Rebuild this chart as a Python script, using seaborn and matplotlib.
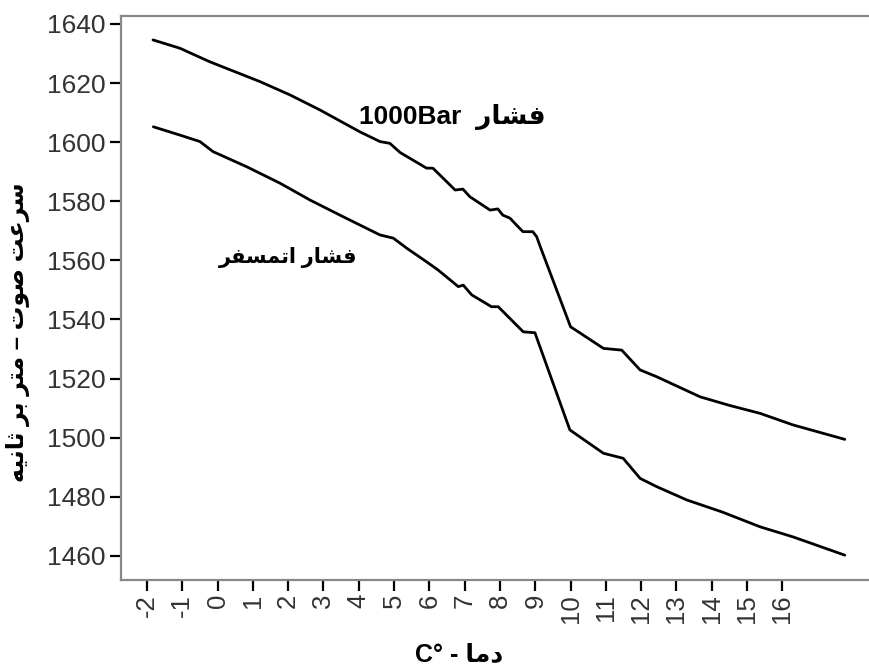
import matplotlib
matplotlib.use("Agg")
import matplotlib.pyplot as plt
import seaborn as sns
import pandas as pd

# ---------------- data ----------------
temp_1000bar = [-1.83, -1.07, -0.22, 1.2, 2.05, 2.9, 4.03, 4.6, 4.88, 5.17, 5.92, 6.1,
                6.73, 6.95, 7.15, 7.72, 7.94, 8.08, 8.28, 8.65, 8.93, 9.04, 9.13, 10.0,
                10.27, 10.93, 11.45, 11.97, 12.44, 13.67, 14.5, 15.37, 16.3, 17.77]
speed_1000bar = [1634.6, 1631.8, 1627.2, 1620.5, 1616.0, 1610.9, 1603.5, 1600.2, 1599.6,
                 1596.5, 1591.2, 1591.2, 1583.8, 1584.1, 1581.5, 1577.0, 1577.4, 1575.3,
                 1574.3, 1569.7, 1569.7, 1568.0, 1565.0, 1537.5, 1535.4, 1530.2, 1529.6,
                 1522.9, 1520.6, 1513.8, 1510.9, 1508.2, 1504.3, 1499.4]

temp_atm = [-1.82, -1.07, -0.5, -0.13, 0.82, 1.77, 2.62, 3.6, 4.6, 4.98, 5.36, 5.92,
            6.25, 6.82, 6.96, 7.2, 7.76, 7.95, 8.66, 8.99, 9.98, 10.93, 11.49, 11.97,
            12.44, 13.29, 14.3, 15.37, 16.3, 17.77]
speed_atm = [1605.2, 1602.4, 1600.2, 1596.8, 1591.7, 1586.1, 1580.4, 1574.5, 1568.6,
             1567.5, 1564.1, 1559.5, 1556.7, 1551.1, 1551.6, 1548.3, 1544.3, 1544.3,
             1535.8, 1535.5, 1502.6, 1494.7, 1493.0, 1486.2, 1483.4, 1478.9, 1474.8,
             1469.8, 1466.4, 1460.2]

x_ticks = list(range(-2, 17))
y_ticks = list(range(1460, 1641, 20))

label_1000 = "فشار  1000Bar"
label_atm = "فشار اتمسفر"
x_label = "دما - C°"
y_label = "سرعت صوت – متر بر ثانیه"

# ---------------- minimal Arabic/Persian shaping ----------------
FORMS = {  # isolated, final, initial, medial
    "ا": (0xFE8D, 0xFE8E, None, None),
    "ب": (0xFE8F, 0xFE90, 0xFE91, 0xFE92),
    "ت": (0xFE95, 0xFE96, 0xFE97, 0xFE98),
    "ث": (0xFE99, 0xFE9A, 0xFE9B, 0xFE9C),
    "د": (0xFEA9, 0xFEAA, None, None),
    "ر": (0xFEAD, 0xFEAE, None, None),
    "س": (0xFEB1, 0xFEB2, 0xFEB3, 0xFEB4),
    "ش": (0xFEB5, 0xFEB6, 0xFEB7, 0xFEB8),
    "ص": (0xFEB9, 0xFEBA, 0xFEBB, 0xFEBC),
    "ع": (0xFEC9, 0xFECA, 0xFECB, 0xFECC),
    "ف": (0xFED1, 0xFED2, 0xFED3, 0xFED4),
    "م": (0xFEE1, 0xFEE2, 0xFEE3, 0xFEE4),
    "ن": (0xFEE5, 0xFEE6, 0xFEE7, 0xFEE8),
    "ه": (0xFEE9, 0xFEEA, 0xFEEB, 0xFEEC),
    "و": (0xFEED, 0xFEEE, None, None),
    "ی": (0xFBFC, 0xFBFD, 0xFBFE, 0xFBFF),
}


def dual(c):
    return c in FORMS and FORMS[c][2] is not None


def rtl(text):
    out = []
    for i, c in enumerate(text):
        if c not in FORMS:
            out.append(c)
            continue
        prev = text[i - 1] if i > 0 else ""
        nxt = text[i + 1] if i + 1 < len(text) else ""
        join_prev = dual(prev)
        join_next = dual(c) and nxt in FORMS
        iso, fin, ini, med = FORMS[c]
        if join_prev and join_next:
            code = med
        elif join_prev:
            code = fin
        elif join_next:
            code = ini
        else:
            code = iso
        out.append(chr(code))
    rev = "".join(reversed(out))
    # restore left-to-right runs (latin letters, digits, degree sign)
    res, run = [], []
    for ch in rev:
        if ch.isascii() and ch.isalnum() or ch == "°":
            run.append(ch)
        else:
            if run:
                res.extend(reversed(run))
                run = []
            res.append(ch)
    if run:
        res.extend(reversed(run))
    return "".join(res)


# ---------------- plot ----------------
sns.set_theme(style="white")
plt.rcParams["font.family"] = ["Liberation Sans", "DejaVu Sans"]

df = pd.concat([
    pd.DataFrame({"temp": temp_1000bar, "speed": speed_1000bar, "series": "1000bar"}),
    pd.DataFrame({"temp": temp_atm, "speed": speed_atm, "series": "atm"}),
])

W, H = 870, 668
fig = plt.figure(figsize=(W / 100, H / 100), dpi=100)
ax_left, ax_right, ax_top, ax_bottom = 120.7, 872, 16, 580
ax = fig.add_axes([ax_left / W, (H - ax_bottom) / H,
                   (ax_right - ax_left) / W, (ax_bottom - ax_top) / H])

sns.lineplot(data=df, x="temp", y="speed", hue="series",
             palette=["black", "black"], linewidth=2.0, legend=False, ax=ax)

ax.set_xlim(-2.745, 18.54)
ax.set_ylim(1451.8, 1642.7)
ax.set_xticks(x_ticks)
ax.set_xticklabels([str(t) for t in x_ticks], rotation=90, fontsize=18.5, color="#333333")
ax.set_yticks(y_ticks)
ax.set_yticklabels([str(t) for t in y_ticks], fontsize=19, color="#333333")
ax.tick_params(axis="both", direction="out", length=8, width=1.6, color="black",
               left=True, bottom=True)
ax.tick_params(axis="x", pad=2)
ax.tick_params(axis="y", pad=3)

for side in ["left", "top", "bottom"]:
    ax.spines[side].set_color("#888888")
    ax.spines[side].set_linewidth(1.6)
ax.spines["right"].set_visible(False)

ax.set_xlabel(rtl(x_label), fontsize=18, fontweight="bold", color="black")
ax.xaxis.set_label_coords(0.45, -0.133)
ax.xaxis.label.set_va("center")
ax.set_ylabel(rtl(y_label), fontsize=17, fontweight="bold", color="black")
ax.yaxis.set_label_coords(-0.137, 0.44)
ax.yaxis.label.set_va("center")

ax.text(6.64, 1608.5, rtl(label_1000), fontsize=19, fontweight="bold",
        ha="center", va="center", color="black")
ax.text(2.0, 1561.0, rtl(label_atm), fontsize=15, fontweight="bold",
        ha="center", va="center", color="black")

fig.savefig("out.png", dpi=100, facecolor="white")
